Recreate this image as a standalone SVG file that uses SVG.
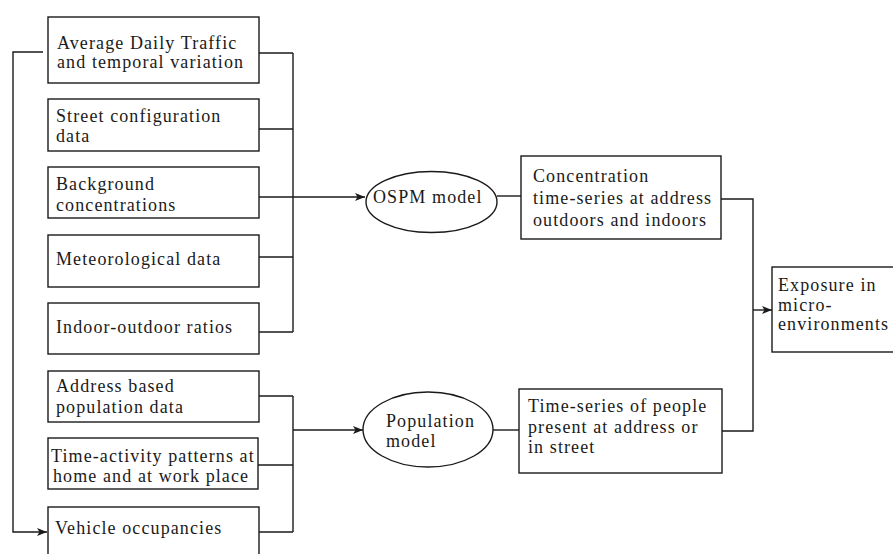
<svg xmlns="http://www.w3.org/2000/svg" width="893" height="554" viewBox="0 0 893 554">
<style>
.box{fill:#fff;stroke:#1a1a1a;stroke-width:1.4}
.ell{fill:#fff;stroke:#1a1a1a;stroke-width:1.4}
.con{fill:none;stroke:#1a1a1a;stroke-width:1.4}
text{font-family:"Liberation Serif","Times New Roman",serif;font-size:18px;letter-spacing:1.1px;fill:#1a1a1a}
</style>
<defs>
<marker id="ah" viewBox="0 0 10 10" refX="10" refY="5" markerWidth="10" markerHeight="10" markerUnits="userSpaceOnUse" orient="auto">
<path d="M0,1 L10,5 L0,9 L2.5,5 Z" fill="#1a1a1a"/>
</marker>
</defs>
<rect width="893" height="554" fill="#fff"/>
<g id="connectors">
<polyline class="con" points="43,52 13,52 13,532 47,532" marker-end="url(#ah)"/>
<line class="con" x1="259" y1="53" x2="293" y2="53"/>
<line class="con" x1="259" y1="129" x2="293" y2="129"/>
<line class="con" x1="259" y1="197" x2="293" y2="197"/>
<line class="con" x1="259" y1="257" x2="293" y2="257"/>
<line class="con" x1="259" y1="332" x2="293" y2="332"/>
<line class="con" x1="293" y1="53" x2="293" y2="332"/>
<line class="con" x1="293" y1="197" x2="365" y2="197" marker-end="url(#ah)"/>
<line class="con" x1="259" y1="396" x2="293" y2="396"/>
<line class="con" x1="258" y1="465" x2="293" y2="465"/>
<line class="con" x1="259" y1="532" x2="293" y2="532"/>
<line class="con" x1="293" y1="396" x2="293" y2="532"/>
<line class="con" x1="293" y1="430" x2="363" y2="430" marker-end="url(#ah)"/>
<line class="con" x1="497" y1="196" x2="521" y2="196"/>
<line class="con" x1="493" y1="430" x2="519" y2="430"/>
<polyline class="con" points="721,199 753,199 753,431 722,431"/>
<line class="con" x1="753" y1="310" x2="772" y2="310" marker-end="url(#ah)"/>
</g>
<g id="adt">
<rect class="box" x="48" y="17" width="211" height="66"/>
<text x="57" y="49">Average Daily Traffic</text>
<text x="57" y="68">and temporal variation</text>
</g>
<g id="street">
<rect class="box" x="48" y="99" width="211" height="52"/>
<text x="56" y="122">Street configuration</text>
<text x="56" y="142">data</text>
</g>
<g id="background">
<rect class="box" x="48" y="167" width="211" height="51"/>
<text x="56" y="190">Background</text>
<text x="56" y="211">concentrations</text>
</g>
<g id="meteo">
<rect class="box" x="48" y="235" width="211" height="52"/>
<text x="56" y="265">Meteorological data</text>
</g>
<g id="indoor">
<rect class="box" x="48" y="303" width="211" height="51"/>
<text x="56" y="333">Indoor-outdoor ratios</text>
</g>
<g id="address">
<rect class="box" x="48" y="371" width="211" height="51"/>
<text x="56" y="392">Address based</text>
<text x="56" y="413">population data</text>
</g>
<g id="timeactivity">
<rect class="box" x="48" y="438" width="210" height="51"/>
<text x="51" y="462" letter-spacing="1.2">Time-activity patterns at</text>
<text x="53" y="482" letter-spacing="1.2">home and at work place</text>
</g>
<g id="vehicle">
<rect class="box" x="48" y="507" width="211" height="60"/>
<text x="55" y="534">Vehicle occupancies</text>
</g>
<g id="ospm">
<ellipse class="ell" cx="431.5" cy="202" rx="65.5" ry="30.5"/>
<text x="373" y="203">OSPM model</text>
</g>
<g id="population">
<ellipse class="ell" cx="428" cy="429.5" rx="65" ry="37.5"/>
<text x="386" y="427">Population</text>
<text x="386" y="447">model</text>
</g>
<g id="concentration">
<rect class="box" x="521" y="156" width="200" height="83"/>
<text x="533" y="182">Concentration</text>
<text x="533" y="204">time-series at address</text>
<text x="533" y="226">outdoors and indoors</text>
</g>
<g id="timeseries">
<rect class="box" x="519" y="389" width="203" height="84"/>
<text x="528" y="412">Time-series of people</text>
<text x="528" y="433">present at address or</text>
<text x="528" y="453">in street</text>
</g>
<g id="exposure">
<rect class="box" x="772" y="267" width="140" height="85"/>
<text x="778" y="291">Exposure in</text>
<text x="778" y="311">micro-</text>
<text x="778" y="330">environments</text>
</g>
</svg>
